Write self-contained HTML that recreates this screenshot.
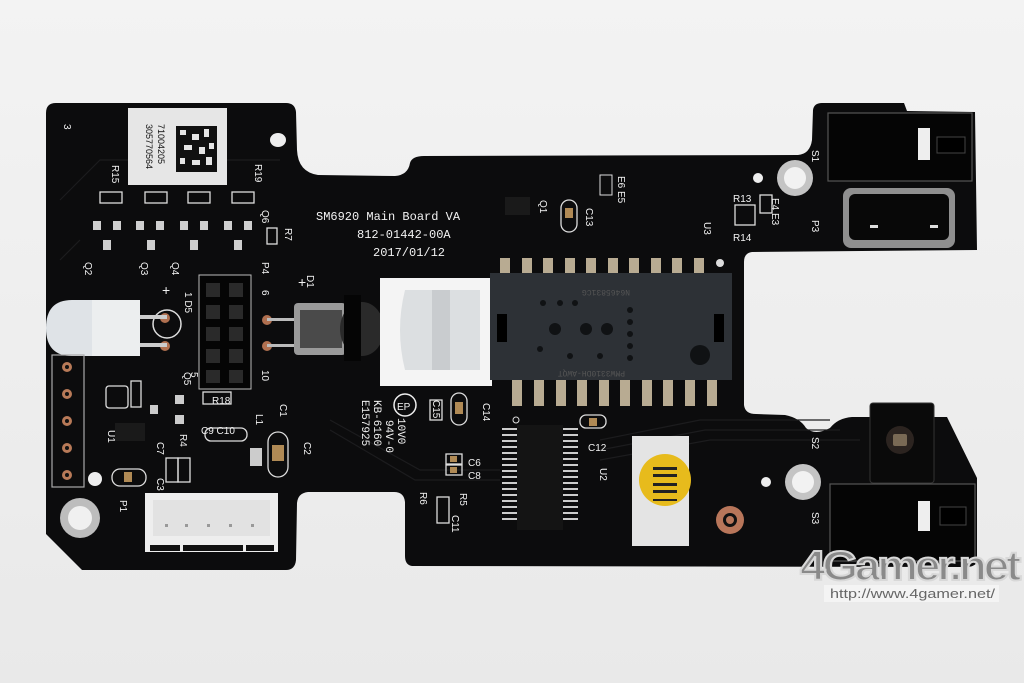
<!DOCTYPE html>
<html><head><meta charset="utf-8"><style>
html,body{margin:0;padding:0;background:#efefef;}
svg{display:block}
text{font-family:"Liberation Sans",sans-serif;fill:#f2f2f2}
.m{font-family:"Liberation Mono",monospace}
</style></head><body>
<svg width="1024" height="683" viewBox="0 0 1024 683" xmlns="http://www.w3.org/2000/svg">
<defs>
<linearGradient id="bg" x1="0" y1="0" x2="0" y2="1"><stop offset="0" stop-color="#f3f3f3"/><stop offset="1" stop-color="#e9e9e9"/></linearGradient>
</defs>
<rect width="1024" height="683" fill="url(#bg)"/>
<!-- board -->
<path d="M56 103 L286 103 Q295 103 296 112 L297 150 Q298 172 318 175 L395 176 Q408 175 410 163 Q412 156 424 156 L798 155 Q810 154 812 140 L813 110 Q814 103 822 103 L904 103 L907 111 L975 112 L977 250 L752 252 Q744 253 744 262 L744 405 Q745 414 756 414 L785 415 Q800 418 806 428 Q815 436 830 428 Q838 418 852 417 L947 417 L977 478 L977 560 Q977 566 968 567 L412 566 Q405 565 405 556 L405 502 Q404 492 394 492 L308 492 Q298 493 297 503 L296 560 Q295 570 286 570 L82 570 L46 534 L46 113 Q46 103 56 103 Z" fill="#0c0c0d"/>
<!-- subtle traces -->
<g stroke="#1c1c1e" stroke-width="1.2" fill="none">
<path d="M600 440 L700 420 L830 420"/><path d="M600 450 L705 430 L840 430"/><path d="M600 460 L710 440 L860 440"/>
<path d="M330 420 L420 470 L500 470"/><path d="M330 430 L415 480 L500 480"/>
<path d="M60 200 L100 160 L280 160"/><path d="M60 260 L80 240"/>
</g>
<!-- sticker -->
<rect x="128" y="108" width="99" height="77" fill="#e6e6e6"/>
<rect x="176" y="126" width="41" height="46" fill="#111"/>
<g fill="#e6e6e6"><rect x="180" y="130" width="6" height="5"/><rect x="192" y="134" width="7" height="6"/><rect x="204" y="129" width="5" height="8"/><rect x="184" y="145" width="8" height="5"/><rect x="199" y="147" width="6" height="7"/><rect x="209" y="143" width="5" height="6"/><rect x="180" y="158" width="5" height="6"/><rect x="192" y="160" width="8" height="5"/><rect x="206" y="157" width="6" height="8"/></g>
<text x="0" y="0" font-size="9" style="fill:#111" transform="translate(158,124) rotate(90)">71004205</text>
<text x="0" y="0" font-size="9" style="fill:#111" transform="translate(146,124) rotate(90)">305770564</text>
<ellipse cx="278" cy="140" rx="8" ry="7" fill="#eee"/>
<!-- small pads row -->
<g fill="none" stroke="#ddd" stroke-width="1.3">
<rect x="100" y="192" width="22" height="11"/><rect x="145" y="192" width="22" height="11"/><rect x="188" y="192" width="22" height="11"/><rect x="232" y="192" width="22" height="11"/>
<rect x="267" y="228" width="10" height="16"/>
</g>
<g fill="#cfcfcf">
<rect x="93" y="221" width="8" height="9"/><rect x="113" y="221" width="8" height="9"/><rect x="103" y="240" width="8" height="10"/>
<rect x="136" y="221" width="8" height="9"/><rect x="156" y="221" width="8" height="9"/><rect x="147" y="240" width="8" height="10"/>
<rect x="180" y="221" width="8" height="9"/><rect x="200" y="221" width="8" height="9"/><rect x="190" y="240" width="8" height="10"/>
<rect x="224" y="221" width="8" height="9"/><rect x="244" y="221" width="8" height="9"/><rect x="234" y="240" width="8" height="10"/>
</g>
<text font-size="10" transform="translate(112,165) rotate(90)">R15</text>
<text font-size="10" transform="translate(255,164) rotate(90)">R19</text>
<text font-size="10" transform="translate(262,210) rotate(90)">Q6</text>
<text font-size="10" transform="translate(285,228) rotate(90)">R7</text>
<text font-size="10" transform="translate(85,262) rotate(90)">Q2</text>
<text font-size="10" transform="translate(141,262) rotate(90)">Q3</text>
<text font-size="10" transform="translate(172,262) rotate(90)">Q4</text>
<text font-size="10" transform="translate(262,262) rotate(90)">P4</text>
<text font-size="10" transform="translate(64,124) rotate(90)">3</text>
<text font-size="14" x="162" y="295">+</text>
<text font-size="14" x="298" y="287">+</text>
<text font-size="10" transform="translate(307,275) rotate(90)">D1</text>
<text font-size="10" transform="translate(185,292) rotate(90)">1 D5</text>
<text font-size="10" transform="translate(262,290) rotate(90)">6</text>
<text font-size="10" transform="translate(262,370) rotate(90)">10</text>
<text font-size="10" transform="translate(191,372) rotate(90)">5</text>
<!-- header D5 -->
<rect x="199" y="275" width="52" height="114" fill="#050505" stroke="#bbb" stroke-width="1"/>
<g fill="#2a2a2a"><rect x="206" y="283" width="14" height="14"/><rect x="229" y="283" width="14" height="14"/><rect x="206" y="305" width="14" height="14"/><rect x="229" y="305" width="14" height="14"/><rect x="206" y="327" width="14" height="14"/><rect x="229" y="327" width="14" height="14"/><rect x="206" y="349" width="14" height="14"/><rect x="229" y="349" width="14" height="14"/><rect x="206" y="370" width="14" height="13"/><rect x="229" y="370" width="14" height="13"/></g>
<!-- left LED -->
<circle cx="167" cy="324" r="14" fill="none" stroke="#ddd" stroke-width="1.5"/>
<circle cx="165" cy="318" r="5" fill="#b07050"/><circle cx="165" cy="346" r="5" fill="#b07050"/>
<rect x="130" y="315" width="37" height="4" fill="#ccc"/><rect x="130" y="343" width="37" height="4" fill="#ccc"/>
<path d="M72 300 L140 300 L140 356 L72 356 Q46 356 46 328 Q46 300 72 300Z" fill="#dfe3e7"/>
<rect x="92" y="300" width="48" height="56" fill="#eceeef"/>
<!-- IR LED -->
<circle cx="267" cy="320" r="5" fill="#b07050"/><circle cx="267" cy="346" r="5" fill="#b07050"/>
<rect x="267" y="318" width="35" height="3" fill="#bbb"/><rect x="267" y="344" width="35" height="3" fill="#bbb"/>
<rect x="294" y="303" width="52" height="52" rx="4" fill="#9a9a9a"/>
<rect x="300" y="310" width="42" height="38" fill="#4a4a4a"/>
<ellipse cx="362" cy="329" rx="22" ry="27" fill="#2a2a2a"/>
<rect x="344" y="295" width="17" height="66" fill="#050505"/>
<!-- lens area -->
<rect x="380" y="278" width="112" height="108" fill="#f4f4f4"/>
<path d="M405 290 Q395 330 405 370 L480 370 L480 290Z" fill="#dcdfe1"/>
<rect x="432" y="290" width="18" height="80" fill="#c9cccf"/>
<!-- sensor pins -->
<g fill="#b8ab92">
<rect x="500" y="258" width="10" height="20"/><rect x="522" y="258" width="10" height="20"/><rect x="543" y="258" width="10" height="20"/><rect x="565" y="258" width="10" height="20"/><rect x="586" y="258" width="10" height="20"/><rect x="608" y="258" width="10" height="20"/><rect x="629" y="258" width="10" height="20"/><rect x="651" y="258" width="10" height="20"/><rect x="672" y="258" width="10" height="20"/><rect x="694" y="258" width="10" height="20"/>
<rect x="512" y="379" width="10" height="27"/><rect x="534" y="379" width="10" height="27"/><rect x="556" y="379" width="10" height="27"/><rect x="577" y="379" width="10" height="27"/><rect x="599" y="379" width="10" height="27"/><rect x="620" y="379" width="10" height="27"/><rect x="642" y="379" width="10" height="27"/><rect x="663" y="379" width="10" height="27"/><rect x="685" y="379" width="10" height="27"/><rect x="707" y="379" width="10" height="27"/>
</g>
<circle cx="720" cy="263" r="4" fill="#ddd"/>
<rect x="490" y="273" width="242" height="107" fill="#2d3136"/>
<rect x="497" y="314" width="10" height="28" fill="#000"/><rect x="714" y="314" width="10" height="28" fill="#000"/>
<g fill="#101214"><circle cx="555" cy="329" r="6"/><circle cx="586" cy="329" r="6"/><circle cx="607" cy="329" r="6"/><circle cx="543" cy="303" r="3"/><circle cx="560" cy="303" r="3"/><circle cx="575" cy="303" r="3"/><circle cx="630" cy="310" r="3"/><circle cx="630" cy="322" r="3"/><circle cx="630" cy="334" r="3"/><circle cx="630" cy="346" r="3"/><circle cx="540" cy="349" r="3"/><circle cx="570" cy="356" r="3"/><circle cx="600" cy="356" r="3"/><circle cx="630" cy="358" r="3"/><circle cx="700" cy="355" r="10"/></g>
<text font-size="8" class="m" style="fill:#555" transform="translate(630,290) rotate(180)">N6465831CG</text>
<text font-size="8" class="m" style="fill:#555" transform="translate(625,371) rotate(180)">PMW3310DH-AWQT</text>
<!-- top text -->
<text x="316" y="220" font-size="12" class="m">SM6920 Main Board VA</text>
<text x="357" y="238" font-size="12" class="m">812-01442-00A</text>
<text x="373" y="256" font-size="12" class="m">2017/01/12</text>
<text font-size="10" transform="translate(704,222) rotate(90)">U3</text>
<text font-size="10" transform="translate(540,200) rotate(90)">Q1</text>
<text font-size="10" transform="translate(586,208) rotate(90)">C13</text>
<text font-size="10" transform="translate(618,176) rotate(90)">E6 E5</text>
<rect x="561" y="200" width="16" height="32" rx="8" fill="none" stroke="#ddd" stroke-width="1.3"/><rect x="565" y="208" width="8" height="10" fill="#b08a55"/>
<rect x="600" y="175" width="12" height="20" fill="none" stroke="#ddd"/>
<rect x="505" y="197" width="25" height="18" fill="#1a1a1a"/>
<!-- left pin header -->
<rect x="52" y="355" width="32" height="132" fill="none" stroke="#aaa" stroke-width="1.2"/>
<g fill="#b87a58"><circle cx="67" cy="367" r="5"/><circle cx="67" cy="394" r="5"/><circle cx="67" cy="421" r="5"/><circle cx="67" cy="448" r="5"/><circle cx="67" cy="475" r="5"/></g>
<g fill="#111"><circle cx="67" cy="367" r="2"/><circle cx="67" cy="394" r="2"/><circle cx="67" cy="421" r="2"/><circle cx="67" cy="448" r="2"/><circle cx="67" cy="475" r="2"/></g>
<circle cx="95" cy="479" r="7" fill="#eee"/>
<!-- screw holes -->
<circle cx="80" cy="518" r="20" fill="#bdbdbd"/><circle cx="80" cy="518" r="12" fill="#f0f0f0"/>
<circle cx="795" cy="178" r="18" fill="#c4c4c4"/><circle cx="795" cy="178" r="11" fill="#f2f2f2"/>
<circle cx="803" cy="482" r="18" fill="#c4c4c4"/><circle cx="803" cy="482" r="11" fill="#f2f2f2"/>
<circle cx="758" cy="178" r="5" fill="#eee"/><circle cx="766" cy="482" r="5" fill="#eee"/>
<circle cx="730" cy="520" r="14" fill="#b8765a"/><circle cx="730" cy="520" r="7" fill="#111"/><circle cx="730" cy="520" r="4" fill="#b8765a"/>
<!-- small components left-bottom -->
<g fill="none" stroke="#ddd" stroke-width="1.3">
<rect x="106" y="386" width="22" height="22" rx="3"/><rect x="131" y="381" width="10" height="26"/>
<rect x="112" y="469" width="34" height="17" rx="8"/>
<rect x="205" y="428" width="42" height="13" rx="6"/>
<rect x="268" y="432" width="20" height="45" rx="10"/>
<rect x="203" y="392" width="28" height="12"/>
<rect x="166" y="458" width="12" height="24"/><rect x="178" y="458" width="12" height="24"/>
<rect x="451" y="393" width="16" height="32" rx="8"/><rect x="430" y="400" width="12" height="20"/>
<rect x="580" y="415" width="26" height="13" rx="6"/>
<rect x="446" y="454" width="16" height="10"/><rect x="446" y="465" width="16" height="10"/>
<rect x="437" y="497" width="12" height="26"/>
<rect x="760" y="195" width="12" height="18"/><rect x="735" y="205" width="20" height="20"/>
</g>
<g fill="#b08a55"><rect x="272" y="445" width="12" height="16"/><rect x="124" y="472" width="8" height="10"/><rect x="455" y="402" width="8" height="12"/><rect x="589" y="418" width="8" height="8"/><rect x="450" y="456" width="7" height="6"/><rect x="450" y="467" width="7" height="6"/></g>
<g fill="#ccc"><rect x="150" y="405" width="8" height="9"/><rect x="175" y="395" width="9" height="9"/><rect x="175" y="415" width="9" height="9"/><rect x="250" y="448" width="12" height="18"/></g>
<rect x="115" y="423" width="30" height="18" fill="#1a1a1a"/>
<text font-size="10" transform="translate(108,430) rotate(90)">U1</text>
<text font-size="10" x="212" y="404">R18</text>
<text font-size="10" x="201" y="434">C9 C10</text>
<text font-size="10" transform="translate(280,404) rotate(90)">C1</text>
<text font-size="10" transform="translate(256,414) rotate(90)">L1</text>
<text font-size="10" transform="translate(304,442) rotate(90)">C2</text>
<text font-size="10" transform="translate(180,434) rotate(90)">R4</text>
<text font-size="10" transform="translate(157,442) rotate(90)">C7</text>
<text font-size="10" transform="translate(157,478) rotate(90)">C3</text>
<text font-size="10" transform="translate(120,500) rotate(90)">P1</text>
<text font-size="10" transform="translate(184,372) rotate(90)">Q5</text>
<!-- P1 connector -->
<rect x="145" y="493" width="133" height="59" fill="#eeeeee"/>
<rect x="153" y="500" width="117" height="36" fill="#e2e2e2"/>
<g fill="#111"><rect x="150" y="545" width="30" height="6"/><rect x="183" y="545" width="60" height="6"/><rect x="246" y="545" width="28" height="6"/></g>
<g fill="#999"><rect x="165" y="524" width="3" height="3"/><rect x="185" y="524" width="3" height="3"/><rect x="207" y="524" width="3" height="3"/><rect x="229" y="524" width="3" height="3"/><rect x="251" y="524" width="3" height="3"/></g>
<!-- EP marks -->
<circle cx="405" cy="405" r="11" fill="none" stroke="#eee" stroke-width="1.5"/>
<text x="397" y="410" font-size="10">EP</text>
<text font-size="11" class="m" transform="translate(398,418) rotate(90)">10V0</text>
<text font-size="11" class="m" transform="translate(386,420) rotate(90)">94V-0</text>
<text font-size="11" class="m" transform="translate(374,400) rotate(90)">KB-6160</text>
<text font-size="11" class="m" transform="translate(362,400) rotate(90)">E157925</text>
<text font-size="10" transform="translate(433,400) rotate(90)">C15</text>
<text font-size="10" transform="translate(483,403) rotate(90)">C14</text>
<text font-size="10" x="468" y="466">C6</text><text font-size="10" x="468" y="479">C8</text>
<text font-size="10" transform="translate(420,492) rotate(90)">R6</text>
<text font-size="10" transform="translate(460,493) rotate(90)">R5</text>
<text font-size="10" transform="translate(452,515) rotate(90)">C11</text>
<text font-size="10" x="588" y="451">C12</text>
<text font-size="10" transform="translate(600,468) rotate(90)">U2</text>
<!-- U2 chip -->
<g fill="#ccc">
<rect x="502" y="428" width="16" height="2"/><rect x="502" y="434" width="16" height="2"/><rect x="502" y="440" width="16" height="2"/><rect x="502" y="446" width="16" height="2"/><rect x="502" y="452" width="16" height="2"/><rect x="502" y="458" width="16" height="2"/><rect x="502" y="464" width="16" height="2"/><rect x="502" y="470" width="16" height="2"/><rect x="502" y="476" width="16" height="2"/><rect x="502" y="482" width="16" height="2"/><rect x="502" y="488" width="16" height="2"/><rect x="502" y="494" width="16" height="2"/><rect x="502" y="500" width="16" height="2"/><rect x="502" y="506" width="16" height="2"/><rect x="502" y="512" width="16" height="2"/><rect x="502" y="518" width="16" height="2"/>
<rect x="562" y="428" width="16" height="2"/><rect x="562" y="434" width="16" height="2"/><rect x="562" y="440" width="16" height="2"/><rect x="562" y="446" width="16" height="2"/><rect x="562" y="452" width="16" height="2"/><rect x="562" y="458" width="16" height="2"/><rect x="562" y="464" width="16" height="2"/><rect x="562" y="470" width="16" height="2"/><rect x="562" y="476" width="16" height="2"/><rect x="562" y="482" width="16" height="2"/><rect x="562" y="488" width="16" height="2"/><rect x="562" y="494" width="16" height="2"/><rect x="562" y="500" width="16" height="2"/><rect x="562" y="506" width="16" height="2"/><rect x="562" y="512" width="16" height="2"/><rect x="562" y="518" width="16" height="2"/>
</g>
<rect x="517" y="425" width="46" height="105" fill="#141414"/>
<circle cx="516" cy="420" r="3" fill="none" stroke="#ddd"/>
<!-- white sticker w/ yellow -->
<rect x="632" y="436" width="57" height="110" fill="#e4e4e4"/>
<circle cx="665" cy="480" r="26" fill="#e7bb1c"/>
<g fill="#222"><rect x="653" y="467" width="24" height="3"/><rect x="653" y="474" width="24" height="3"/><rect x="653" y="483" width="24" height="3"/><rect x="653" y="490" width="24" height="3"/><rect x="653" y="499" width="24" height="2"/></g>
<!-- right side -->
<text font-size="10" transform="translate(812,150) rotate(90)">S1</text>
<text font-size="10" transform="translate(812,437) rotate(90)">S2</text>
<text font-size="10" transform="translate(812,512) rotate(90)">S3</text>
<text font-size="10" transform="translate(812,220) rotate(90)">P3</text>
<text font-size="10" x="733" y="202">R13</text>
<text font-size="10" x="733" y="241">R14</text>
<text font-size="10" transform="translate(772,198) rotate(90)">E4 E3</text>
<rect x="828" y="113" width="144" height="68" fill="#050505" stroke="#555" stroke-width="1.2"/>
<rect x="918" y="128" width="12" height="32" fill="#eee"/>
<rect x="937" y="137" width="28" height="16" fill="#000" stroke="#444"/>
<rect x="843" y="188" width="112" height="60" rx="8" fill="#8f8f8f"/>
<rect x="849" y="194" width="100" height="46" rx="6" fill="#080808"/>
<rect x="870" y="225" width="8" height="3" fill="#ddd"/><rect x="930" y="225" width="8" height="3" fill="#ddd"/>
<rect x="870" y="403" width="64" height="80" rx="3" fill="#0a0a0a" stroke="#333"/>
<circle cx="900" cy="440" r="14" fill="#2c2420"/><rect x="893" y="434" width="14" height="12" rx="2" fill="#7a6a55"/>
<rect x="830" y="484" width="145" height="77" fill="#050505" stroke="#555" stroke-width="1.2"/>
<rect x="918" y="501" width="12" height="30" fill="#eee"/>
<rect x="940" y="507" width="26" height="18" fill="#000" stroke="#444"/>
<!-- watermark -->
<text x="800" y="580" font-size="42" font-weight="bold" style="fill:#8a8a8a;stroke:#d8d8d8;stroke-width:2;letter-spacing:-3px" textLength="218" lengthAdjust="spacingAndGlyphs">4Gamer.net</text>
<rect x="824" y="585" width="175" height="17" fill="#f6f6f6" opacity="0.8"/>
<text x="830" y="598" font-size="13" style="fill:#666" textLength="165" lengthAdjust="spacingAndGlyphs">http://www.4gamer.net/</text>
</svg>
</body></html>
